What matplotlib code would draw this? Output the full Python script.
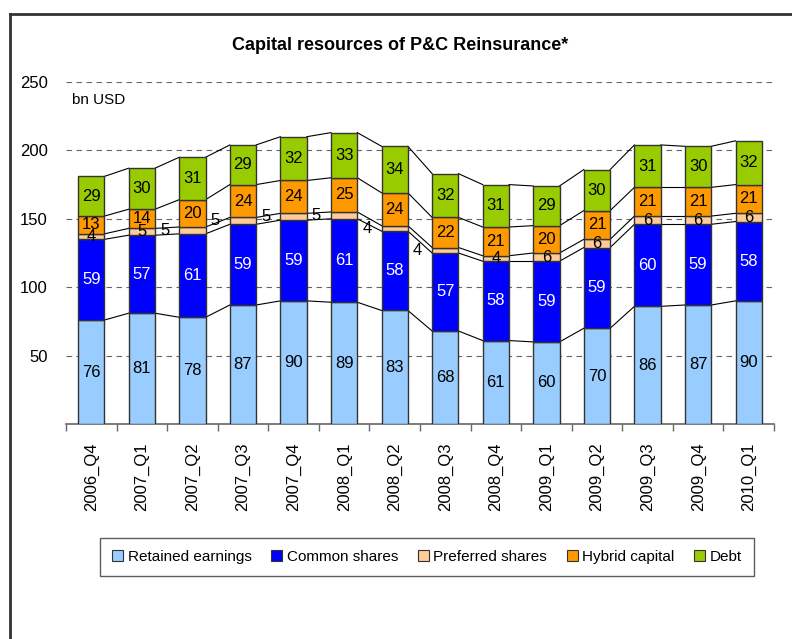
import numpy as np
import matplotlib
matplotlib.use('Agg')
import matplotlib.pyplot as plt
from matplotlib.lines import Line2D
from matplotlib.patches import Patch

plt.rcParams['font.family'] = ['Liberation Sans', 'DejaVu Sans']

# Data (bn USD)
quarters = ['2006_Q4', '2007_Q1', '2007_Q2', '2007_Q3', '2007_Q4', '2008_Q1', '2008_Q2',
            '2008_Q3', '2008_Q4', '2009_Q1', '2009_Q2', '2009_Q3', '2009_Q4', '2010_Q1']
retained = [76, 81, 78, 87, 90, 89, 83, 68, 61, 60, 70, 86, 87, 90]
common = [59, 57, 61, 59, 59, 61, 58, 57, 58, 59, 59, 60, 59, 58]
preferred = [4, 5, 5, 5, 5, 5, 4, 4, 4, 6, 6, 6, 6, 6]
hybrid = [13, 14, 20, 24, 24, 25, 24, 22, 21, 20, 21, 21, 21, 21]
debt = [29, 30, 31, 29, 32, 33, 34, 32, 31, 29, 30, 31, 30, 32]

series_names = ['Retained earnings', 'Common shares', 'Preferred shares', 'Hybrid capital', 'Debt']
series = [retained, common, preferred, hybrid, debt]
colors = ['#99CCFF', '#0000FF', '#FFCC99', '#FF9900', '#99CC00']
text_colors = ['black', 'white', 'black', 'black', 'black']

fig = plt.figure(figsize=(7.92, 6.39), dpi=100)
ax = fig.add_axes([66 / 792, 1 - 424 / 639, 708 / 792, 342 / 639])

x = np.arange(len(quarters))
w = 0.52
bottom = np.zeros(len(quarters))
tops = []
for vals, col, tcol in zip(series, colors, text_colors):
    vals = np.array(vals, dtype=float)
    ax.bar(x, vals, w, bottom=bottom, color=col, edgecolor='#333333', linewidth=1.0, zorder=3)
    mids = bottom + vals / 2
    for i, v in enumerate(vals):
        xi = x[i]
        # small preferred-share labels that sit beside the bar
        if col == '#FFCC99' and 2 <= i <= 7:
            xi = x[i] - 0.55
        ax.text(xi, mids[i], f'{int(v)}', ha='center', va='center', color=tcol,
                fontsize=12, zorder=5)
    bottom = bottom + vals
    tops.append(bottom.copy())

# series lines between bars
for lvl in tops:
    for i in range(len(quarters) - 1):
        ax.plot([x[i] + w / 2, x[i + 1] - w / 2], [lvl[i], lvl[i + 1]],
                color='black', linewidth=0.8, zorder=2)

ax.set_xlim(-0.5, len(quarters) - 0.5)
ax.set_ylim(0, 250)
ax.set_yticks([50, 100, 150, 200, 250])
ax.yaxis.grid(True, linestyle=(0, (5, 4)), color='#666666', linewidth=0.8, zorder=0)
ax.set_axisbelow(True)
for s in ['left', 'right', 'top']:
    ax.spines[s].set_visible(False)
ax.spines['bottom'].set_color('#666666')
ax.spines['bottom'].set_linewidth(1.2)
ax.tick_params(axis='y', length=0, labelsize=12, pad=13)

ax.set_xticks(x)
ax.set_xticklabels(quarters, rotation=90, fontsize=12)
ax.tick_params(axis='x', length=0, pad=13)
ax.set_xticks(np.arange(-0.5, len(quarters)), minor=True)
ax.tick_params(axis='x', which='minor', length=5, color='#666666', width=1)

ax.text(6 / 708, 237, 'bn USD', fontsize=11, ha='left', va='center',
        transform=ax.get_yaxis_transform())

fig.text(0.505, 1 - 45 / 639, 'Capital resources of P&C Reinsurance*', ha='center', va='center',
         fontsize=13, fontweight='bold')

handles = [Patch(facecolor=c, edgecolor='#333333', linewidth=0.8) for c in colors]
leg = fig.legend(handles, series_names, loc='center', bbox_to_anchor=(427 / 792, 1 - 557 / 639),
                 ncol=5, frameon=True, fancybox=False, edgecolor='#333333', fontsize=11,
                 handlelength=0.7, handleheight=0.7, handletextpad=0.3, columnspacing=1.3,
                 borderpad=0.8)
leg.get_frame().set_linewidth(1.0)

# outer chart border (left and top)
fig.add_artist(Line2D([10 / 792, 10 / 792], [0, 1 - 14 / 639], color='#333333', linewidth=2,
                      transform=fig.transFigure))
fig.add_artist(Line2D([10 / 792, 1], [1 - 14 / 639, 1 - 14 / 639], color='#333333', linewidth=2,
                      transform=fig.transFigure))

fig.savefig('out.png', dpi=100)
